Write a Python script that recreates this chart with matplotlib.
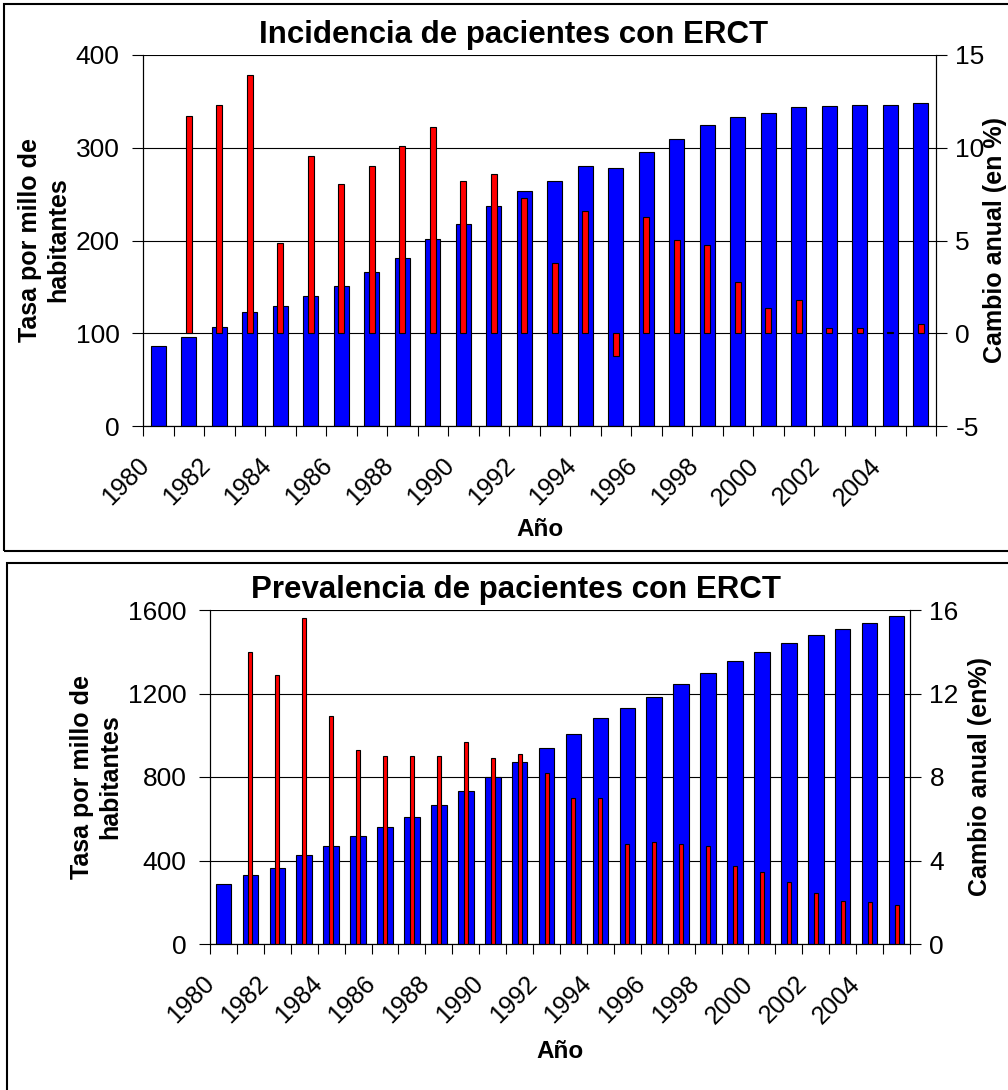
import numpy as np
import matplotlib.pyplot as plt
from matplotlib.patches import Rectangle
from matplotlib.transforms import ScaledTranslation

plt.rcParams['font.family'] = ['Liberation Sans', 'DejaVu Sans']
plt.rcParams['axes.unicode_minus'] = False

years = list(range(1980, 2006))

# tasa por millón de habitantes
incidencia = [86, 96, 107, 123, 129, 140, 151, 166, 181, 202, 218, 237, 253,
              264, 280, 278, 295, 309, 324, 333, 338, 344, 345, 346, 346, 348]
prevalencia = [286, 329, 366, 427, 470, 519, 561, 610, 665, 732, 799, 872, 939,
               1006, 1081, 1129, 1184, 1244, 1300, 1355, 1398, 1441, 1478, 1508, 1538, 1569]

# cambio anual en %, desde 1981
cambio_inc = [11.7, 12.3, 13.9, 4.85, 9.55, 8.05, 9.0, 10.1, 11.1, 8.2, 8.6, 7.3,
              3.8, 6.6, -1.2, 6.25, 5.05, 4.75, 2.75, 1.35, 1.8, 0.27, 0.27, 0.05, 0.5]
cambio_prev = [14.0, 12.9, 15.6, 10.9, 9.3, 9.0, 9.0, 9.0, 9.7, 8.9, 9.1, 8.2,
               7.0, 7.0, 4.8, 4.9, 4.8, 4.7, 3.75, 3.45, 2.95, 2.45, 2.05, 2.0, 1.85]

W, H = 1008, 1090
fig = plt.figure(figsize=(W / 100, H / 100), dpi=100)


def px(x0, y0, x1, y1):
    # pixel box -> figure rect
    return [x0 / W, 1 - y1 / H, (x1 - x0) / W, (y1 - y0) / H]


def panel(rect, tasa, cambio, ylim1, ticks1, ylim2, ticks2, wb, wr):
    ax = fig.add_axes(rect)
    x = np.arange(len(years))
    ax.bar(x, tasa, width=wb, color='#0000ff', edgecolor='black', linewidth=0.8, zorder=2)
    ax.set_xlim(-0.5, len(years) - 0.5)
    ax.set_ylim(*ylim1)
    ax.set_yticks(ticks1)
    ax.yaxis.grid(True, color='black', linewidth=0.8)
    ax.set_axisbelow(True)

    ax.set_xticks(x[::2])
    ax.set_xticklabels([str(y) for y in years[::2]], rotation=45, ha='right',
                       va='center', rotation_mode='anchor', fontsize=18)
    ax.set_xticks(np.arange(-0.5, len(years)), minor=True)
    ax.tick_params(axis='x', which='major', length=0, pad=26)
    ax.tick_params(axis='x', which='minor', length=7, width=0.8, direction='out')
    off = ScaledTranslation(-13 / 100, 0, fig.dpi_scale_trans)
    for lab in ax.get_xticklabels():
        lab.set_transform(lab.get_transform() + off)
    ax.tick_params(axis='y', length=8, width=0.8, labelsize=19, pad=9)

    ax2 = ax.twinx()
    ax2.bar(x[1:], cambio, width=wr, color='#ff0000', edgecolor='black', linewidth=0.8)
    ax2.set_ylim(*ylim2)
    ax2.set_yticks(ticks2)
    ax2.tick_params(axis='y', length=8, width=0.8, labelsize=19, pad=6)

    for a in (ax, ax2):
        a.spines['top'].set_visible(False)
        for s in ('left', 'right', 'bottom'):
            a.spines[s].set_linewidth(0.8)
    return ax, ax2


# Incidencia
panel(px(143, 55, 936, 426), incidencia, cambio_inc, (0, 400), [0, 100, 200, 300, 400],
      (-5, 15), [-5, 0, 5, 10, 15], 0.49, 0.2)
fig.text(514 / W, 1 - 35 / H, 'Incidencia de pacientes con ERCT', ha='center', va='center',
         fontsize=22.5, weight='bold')
fig.text(44 / W, 1 - 240 / H, 'Tasa por millo de\nhabitantes', ha='center', va='center',
         rotation=90, fontsize=18, weight='bold', linespacing=1.2)
fig.text(995 / W, 1 - 240 / H, 'Cambio anual (en %)', ha='center', va='center',
         rotation=90, fontsize=18, weight='bold')
fig.text(540 / W, 1 - 530 / H, 'Año', ha='center', va='center', fontsize=17.5, weight='bold')

# Prevalencia
panel(px(210, 610, 910, 944), prevalencia, cambio_prev, (0, 1600), [0, 400, 800, 1200, 1600],
      (0, 16), [0, 4, 8, 12, 16], 0.58, 0.15)
fig.text(516 / W, 1 - 590 / H, 'Prevalencia de pacientes con ERCT', ha='center', va='center',
         fontsize=22.5, weight='bold')
fig.text(96 / W, 1 - 777 / H, 'Tasa por millo de\nhabitantes', ha='center', va='center',
         rotation=90, fontsize=18, weight='bold', linespacing=1.2)
fig.text(980 / W, 1 - 777 / H, 'Cambio anual (en%)', ha='center', va='center',
         rotation=90, fontsize=18, weight='bold')
fig.text(560 / W, 1 - 1052 / H, 'Año', ha='center', va='center', fontsize=17.5, weight='bold')

# marcos de cada gráfico
fig.patches.append(Rectangle((4 / W, 1 - 551 / H), 1.0, 547 / H, transform=fig.transFigure,
                             fill=False, edgecolor='black', linewidth=1.5))
fig.patches.append(Rectangle((7 / W, -0.1), 1.0, 0.1 + 1 - 563 / H, transform=fig.transFigure,
                             fill=False, edgecolor='black', linewidth=1.5))

fig.savefig('out.png', dpi=100, facecolor='white')
